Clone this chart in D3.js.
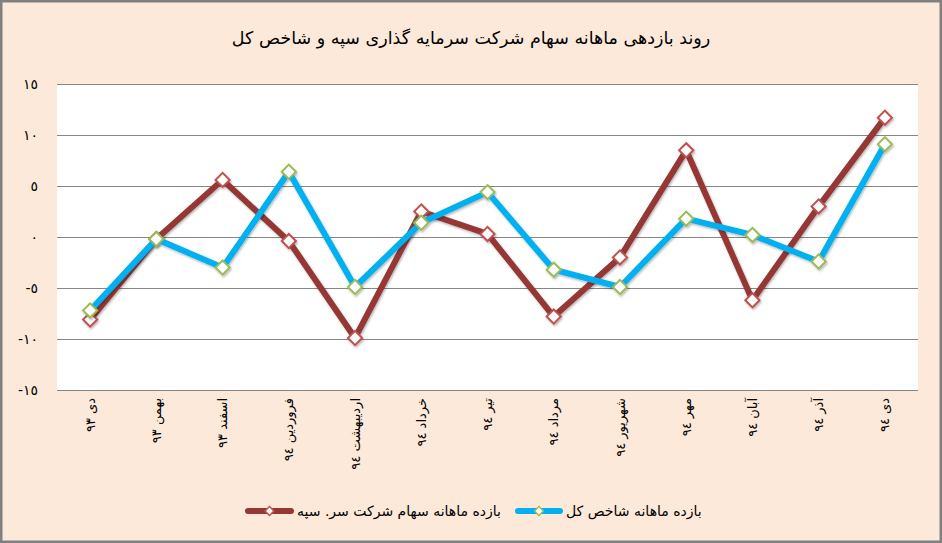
<!DOCTYPE html>
<html>
<head>
<meta charset="utf-8">
<script src="https://cdn.jsdelivr.net/npm/d3@7"></script>
<style>
  html, body { margin: 0; padding: 0; background: #fff; }
  svg { display: block; }
  text { font-family: "DejaVu Sans", "Noto Sans", sans-serif; fill: #000; }
</style>
</head>
<body>
<div id="chart"></div>
<script>
// monthly returns, Sepah investment co. vs. overall index
const categories = ["دی 93", "بهمن 93", "اسفند 93", "فروردین 94", "اردیبهشت 94", "خرداد 94",
  "تیر 94", "مرداد 94", "شهریور 94", "مهر 94", "آبان 94", "آذر 94", "دی 94"];
const sepahValues = [-8.1, -0.2, 5.6, -0.4, -9.9, 2.5, 0.3, -7.8, -2.0, 8.5, -6.2, 3.0, 11.7];
const indexValues = [-7.2, -0.2, -3.0, 6.4, -4.9, 1.4, 4.4, -3.2, -4.9, 1.8, 0.2, -2.4, 9.1];
const yTicks = [-15, -10, -5, 0, 5, 10, 15];
const title = "روند بازدهی ماهانه سهام شرکت سرمایه گذاری سپه و شاخص کل";
const series = [
  {name: "بازده ماهانه شاخص کل", values: indexValues, line: "#00b0f0", marker: "#9bbb59"},
  {name: "بازده ماهانه سهام شرکت سر. سپه", values: sepahValues, line: "#953735", marker: "#c0504d"}
];

const W = 942, H = 543;
const plot = {left: 57, right: 918, top: 84, bottom: 390};

// arabic-indic digits for every label
const arDigits = s => String(s).replace(/[0-9]/g, d => String.fromCharCode(0x0660 + (+d)));

const svg = d3.select("#chart").append("svg")
    .attr("width", W)
    .attr("height", H);

const defs = svg.append("defs");
const shadow = defs.append("filter").attr("id", "shadow")
    .attr("x", "-20%").attr("y", "-20%").attr("width", "140%").attr("height", "140%");
shadow.append("feDropShadow")
    .attr("dx", 1).attr("dy", 1.5).attr("stdDeviation", 1.2)
    .attr("flood-color", "#000").attr("flood-opacity", 0.3);

// page background + frame
svg.append("rect")
    .attr("x", 1.25).attr("y", 1.25)
    .attr("width", W - 2.5).attr("height", H - 2.5)
    .attr("fill", "#fde9d9")
    .attr("stroke", "#808080")
    .attr("stroke-width", 2.5);

svg.append("rect")
    .attr("x", plot.left).attr("y", plot.top)
    .attr("width", plot.right - plot.left).attr("height", plot.bottom - plot.top)
    .attr("fill", "#fff");

const x = d3.scaleBand()
    .domain(categories)
    .range([plot.left, plot.right]);

const y = d3.scaleLinear()
    .domain([-15, 15])
    .range([plot.bottom, plot.top]);

// grid
svg.append("g")
    .selectAll("line")
    .data(yTicks)
    .join("line")
      .attr("x1", plot.left).attr("x2", plot.right)
      .attr("y1", d => Math.round(y(d)) + 0.5).attr("y2", d => Math.round(y(d)) + 0.5)
      .attr("stroke", "#868686")
      .attr("stroke-width", 1);

// y axis labels
const yAxis = svg.append("g")
    .attr("transform", `translate(${plot.left},0)`)
    .call(d3.axisLeft(y).tickValues(yTicks).tickSize(0).tickPadding(19).tickFormat(arDigits));
yAxis.select(".domain").remove();
yAxis.selectAll("text")
    .attr("font-family", "DejaVu Sans, sans-serif")
    .attr("font-size", 14)
    .attr("fill", "#000");

// x axis labels (rotated)
const xAxis = svg.append("g")
    .attr("transform", `translate(0,${plot.bottom})`)
    .call(d3.axisBottom(x).tickSize(0).tickFormat(arDigits));
xAxis.select(".domain").remove();
xAxis.selectAll("text")
    .attr("font-family", "DejaVu Sans, sans-serif")
    .attr("font-size", 13)
    .attr("fill", "#000")
    .attr("text-anchor", "end")
    .attr("transform", "rotate(-90)")
    .attr("x", -8)
    .attr("y", 0)
    .attr("dy", "0.35em");

const line = d3.line()
    .x((d, i) => x(categories[i]) + x.bandwidth() / 2)
    .y(d => y(d));

const diamond = d3.symbol().type(d3.symbolSquare).size(100);

// draw red series first, blue on top like the reference
const drawOrder = [series[1], series[0]];
drawOrder.forEach(s => {
  const g = svg.append("g").attr("filter", "url(#shadow)");
  g.append("path")
      .datum(s.values)
      .attr("fill", "none")
      .attr("stroke", s.line)
      .attr("stroke-width", 6)
      .attr("stroke-linejoin", "round")
      .attr("d", line);
  g.selectAll("path.marker")
    .data(s.values)
    .join("path")
      .attr("class", "marker")
      .attr("d", diamond)
      .attr("transform", (d, i) => `translate(${x(categories[i]) + x.bandwidth() / 2},${y(d)}) rotate(45)`)
      .attr("fill", "#fff")
      .attr("stroke", s.marker)
      .attr("stroke-width", 2);
});

// title
svg.append("text")
    .attr("x", 471)
    .attr("y", 44)
    .attr("text-anchor", "middle")
    .attr("font-size", 17.5)
    .text(title);

// legend
const legendItems = [
  {s: series[1], x0: 245, x1: 294, tx: 297},
  {s: series[0], x0: 515, x1: 563, tx: 566}
];
const ly = 511;
legendItems.forEach(it => {
  const g = svg.append("g");
  g.append("line")
      .attr("x1", it.x0 + 3).attr("x2", it.x1 - 3)
      .attr("y1", ly).attr("y2", ly)
      .attr("stroke", it.s.line)
      .attr("stroke-width", 6)
      .attr("stroke-linecap", "round");
  g.append("path")
      .attr("d", d3.symbol().type(d3.symbolSquare).size(40))
      .attr("transform", `translate(${(it.x0 + it.x1) / 2},${ly}) rotate(45)`)
      .attr("fill", "#fff")
      .attr("stroke", it.s.marker)
      .attr("stroke-width", 1.5);
  g.append("text")
      .attr("x", it.tx)
      .attr("y", ly)
      .attr("dy", "0.35em")
      .attr("text-anchor", "start")
      .attr("font-size", 14)
      .text(it.s.name);
});
</script>
</body>
</html>
